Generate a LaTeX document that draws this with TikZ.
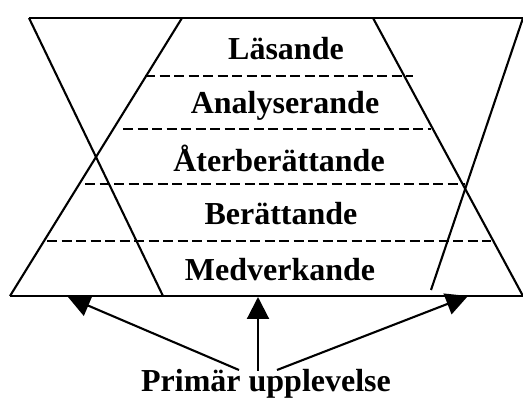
\documentclass[tikz,border=0pt]{standalone}
\usepackage{fontspec}
\setmainfont{Liberation Serif}
\usetikzlibrary{arrows.meta}

\begin{document}
\begin{tikzpicture}[
  x=1pt, y=-1pt,
  edge/.style={line width=2.1pt},
  layer/.style={line width=2.1pt, dash pattern=on 10pt off 4.5pt},
  stage/.style={font=\fontsize{32}{36}\selectfont\bfseries, anchor=base, inner sep=0pt},
  upp/.style={line width=2.1pt, -{Triangle[length=22pt, width=22pt]}},
]
  \useasboundingbox (0,0) rectangle (523,398);

  % outer frame and the crossing sides
  \coordinate (topL) at (29,18);
  \coordinate (topR) at (523,18);
  \coordinate (botL) at (10,296);
  \coordinate (botR) at (523,296);
  \draw[edge] (topL) -- (topR);
  \draw[edge] (botL) -- (botR);
  \draw[edge] (topL) -- (163,296);
  \draw[edge] (182,18) -- (botL);
  \draw[edge] (373,18) -- (botR);
  \draw[edge] (topR) -- (431,290);

  % layer borders
  \draw[layer] (145,76) -- (413,76);
  \draw[layer] (123,129) -- (431,129);
  \draw[layer] (85,184) -- (465,184);
  \draw[layer] (47,241) -- (491,241);

  \node[stage] (las) at (286,60)  {Läsande};
  \node[stage] (ana) at (285,114) {Analyserande};
  \node[stage] (ater) at (279,172) {Återberättande};
  \node[stage] (ber) at (281,225) {Berättande};
  \node[stage] (med) at (280,281) {Medverkande};
  \node[stage] (pu) at (266,392) {Primär upplevelse};

  % arrows up to the base line
  \coordinate (fromL) at (239,370);
  \coordinate (fromM) at (258,371);
  \coordinate (fromR) at (277,370);
  \coordinate (toL) at (68,297);
  \coordinate (toM) at (258,297);
  \coordinate (toR) at (468,296);
  \draw[upp] (fromL) -- (toL);
  \draw[upp] (fromM) -- (toM);
  \draw[upp] (fromR) -- (toR);
\end{tikzpicture}
\end{document}
